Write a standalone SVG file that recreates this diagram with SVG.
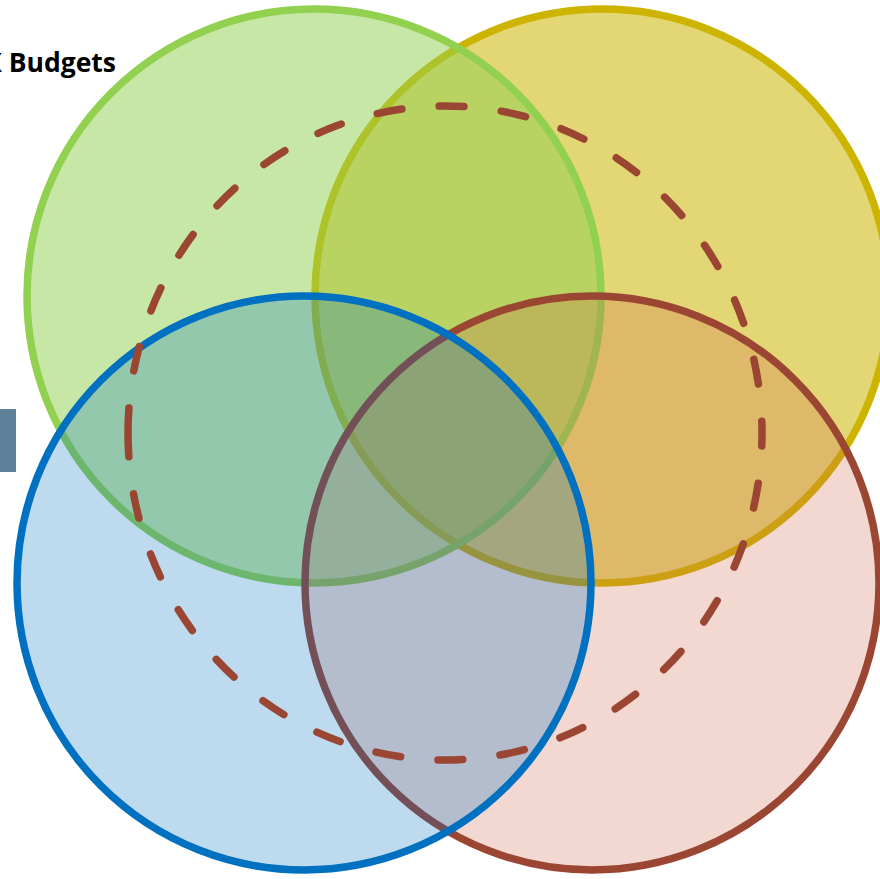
<svg xmlns="http://www.w3.org/2000/svg" width="880" height="879" viewBox="0 0 880 879">
  <style>
    .set { stroke-width: 7.5; }
    .yellow { fill: rgba(204,180,0,0.54); stroke: #ccb400; }
    .green  { fill: rgba(146,208,80,0.51); stroke: #92d050; }
    .red    { fill: rgba(203,99,71,0.25); stroke: #9b4632; }
    .blue   { fill: rgba(0,112,192,0.26); stroke: #0070c0; }
    .ring   { fill: none; stroke: #9b4632; stroke-width: 7.5; stroke-linecap: round; stroke-dasharray: 25 37.46; }
    .title  { font-family: "Open Sans", "Liberation Sans", sans-serif; font-weight: 700; font-size: 26.5px; fill: #000; }
  </style>
  <rect width="880" height="879" fill="#ffffff"/>

  <text class="title" x="116" y="72" text-anchor="end">X Budgets</text>
  <rect id="side-tab" x="0" y="409" width="16" height="63" fill="#5e8199"/>

  <!-- four overlapping sets -->
  <g id="set-yellow"><circle class="set yellow" cx="602" cy="296" r="287"/></g>
  <g id="set-green"><circle class="set green" cx="314" cy="296" r="287"/></g>
  <g id="set-red"><circle class="set red" cx="592" cy="583" r="287"/></g>
  <g id="set-blue"><circle class="set blue" cx="304" cy="583" r="287"/></g>

  <!-- dashed boundary around the shared core -->
  <g id="connectors">
    <path class="ring" d="M 128 433 A 317 327 0 0 1 762 433 A 317 327 0 0 1 128 433"/>
  </g>
</svg>
